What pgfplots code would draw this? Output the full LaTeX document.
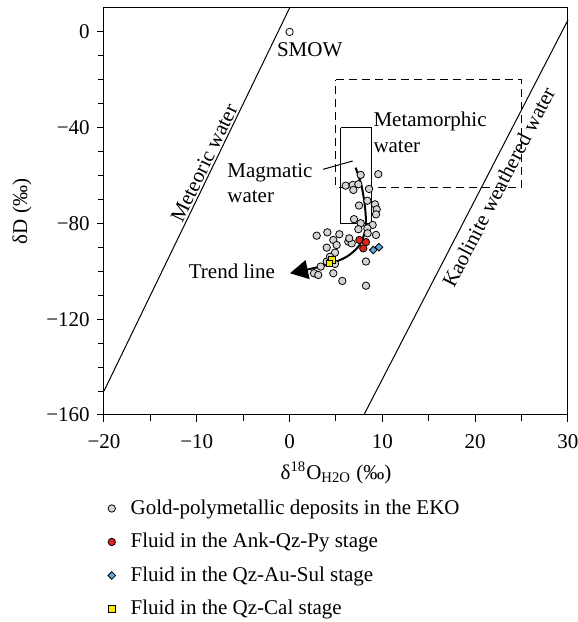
\documentclass[border=0pt]{standalone}
\usepackage{fontspec}
\setmainfont{Liberation Serif}
\usepackage{pgfplots}
\pgfplotsset{compat=1.18}
\usetikzlibrary{arrows.meta}
\definecolor{gfill}{HTML}{D4D4D4}
\definecolor{rfill}{HTML}{E2231A}
\definecolor{bfill}{HTML}{5BA8DC}
\definecolor{yfill}{HTML}{F8E700}
\begin{document}
\fontsize{10.5}{12.6}\selectfont
\begin{tikzpicture}
\path[use as bounding box] (0,0) rectangle (289pt,311pt);
\begin{axis}[
  at={(52pt,103.5pt)}, anchor=south west,
  scale only axis, width=232pt, height=203.5pt,
  xmin=-20, xmax=30, ymin=-160, ymax=10,
  xtick={-20,-10,0,10,20,30}, xticklabels={−20,−10,0,10,20,30},
  minor xtick={-15,-5,5,15,25},
  ytick={-160,-120,-80,-40,0}, yticklabels={−160,−120,−80,−40,0},
  minor ytick={-150,-140,-130,-110,-100,-90,-70,-60,-50,-30,-20,-10},
  xtick pos=bottom, ytick pos=left, tick align=outside,
  major tick length=3.5pt, minor tick length=3pt,
  tick style={black, line width=0.5pt},
  axis line style={line width=0.5pt},
  xticklabel style={yshift=-2.5pt},
  xlabel={δ\textsuperscript{18}O\textsubscript{H2O} (‰)},
  ylabel={δD (‰)},
  every axis x label/.style={at={(axis description cs:0.5,0)}, anchor=center, yshift=-29pt},
  every axis y label/.style={at={(axis description cs:0,0.5)}, xshift=-41pt, rotate=90, anchor=center},
  legend style={at={(axis description cs:0,0)}, anchor=north west, xshift=0.2pt, yshift=-40.3pt,
    draw=none, fill=none, inner sep=0pt, outer sep=0pt, row sep=3.9pt, column sep=3.7pt,
    font=\fontsize{10.5}{12.6}\selectfont},
  legend cell align=left,
  legend image code/.code={\path (-3.5pt,0pt) (3.5pt,0pt); \draw[#1] plot coordinates {(0pt,0pt)};},
  clip=false,
]
% reference lines
\addplot[black, line width=0.5pt, forget plot] coordinates {(-20,-150) (0,10)};
\addplot[black, line width=0.5pt, forget plot] coordinates {(8,-160) (30,5)};
% metamorphic water box
\addplot[black, line width=0.5pt, dash pattern=on 4pt off 2.5pt, forget plot] coordinates {(5,-20) (25,-20) (25,-65) (5,-65) (5,-20)};
% magmatic water box
\addplot[black, line width=0.5pt, forget plot] coordinates {(5.5,-40) (8.8,-40) (8.8,-80) (5.5,-80) (5.5,-40)};
% leader line
\addplot[black, line width=0.5pt, forget plot] coordinates {(3.6,-57.4) (6.8,-53.9)};
% SMOW
\addplot[only marks, mark=*, mark size=1.85pt, mark options={fill=white, draw=black, line width=0.4pt}, forget plot] coordinates {(0,0)};

\addplot[only marks, mark=*, mark size=1.85pt, mark options={fill=gfill, draw=black, line width=0.4pt}] coordinates {
(7.66,-59.7)(9.56,-59.4)(6.04,-64.2)(6.80,-63.9)(6.87,-66.0)(8.56,-65.6)(7.41,-63.6)
(8.38,-70.5)(7.48,-72.5)(9.2,-72.0)(9.39,-74.1)(9.31,-76.2)(6.94,-78.2)(7.66,-79.9)
(8.95,-80.6)(7.41,-82.4)(8.38,-82.0)(9.31,-84.8)(2.92,-85.1)(4.07,-83.7)(5.36,-84.5)
(4.71,-86.9)(6.33,-87.6)(6.69,-88.3)(4.0,-90.1)(5.07,-89.0)(4.89,-92.2)(4.0,-95.9)
(4.89,-96.9)(3.35,-98.0)(2.63,-100.8)(3.09,-101.5)(4.71,-100.8)(5.68,-104.0)(8.23,-95.9)
(8.23,-106.0)(4.35,-93.9)(6.43,-86.2)(8.41,-84.1)};
\addlegendentry{Gold-polymetallic deposits in the EKO}

% trend line
\addplot[black, line width=1pt, smooth, -{Triangle[length=9pt,width=9.5pt]}, forget plot] coordinates {
(7.12,-56.7)(7.77,-64.6)(8.12,-73.0)(8.23,-79.9)(8.02,-84.8)(7.41,-89.7)(6.15,-93.9)(4.35,-96.9)(2.56,-98.7)(0.04,-100.8)};

\addplot[only marks, mark=*, mark size=1.85pt, mark options={fill=rfill, draw=black, line width=0.4pt}] coordinates {
(7.52,-86.9)(8.23,-87.8)(7.94,-90.4)};
\addlegendentry{Fluid in the Ank-Qz-Py stage}

\addplot[only marks, mark=square*, mark size=1.35pt, mark options={rotate=45, fill=bfill, draw=black, line width=0.4pt}] coordinates {
(9.02,-91.1)(9.63,-89.9)};
\addlegendentry{Fluid in the Qz-Au-Sul stage}

\addplot[only marks, mark=square*, mark size=1.65pt, mark options={fill=yfill, draw=black, line width=0.4pt}] coordinates {
(4.53,-95.2)(4.28,-96.6)};
\addlegendentry{Fluid in the Qz-Cal stage}

% text labels
\node[anchor=base west, inner sep=0pt] at (axis cs:-1.4,-10.3) {SMOW};
\node[anchor=south, inner sep=1pt, rotate=64.1] at (axis cs:-8.3,-56.5) {Meteoric water};
\node[anchor=north, inner sep=3.5pt, rotate=62.7] at (axis cs:21.1,-62) {Kaolinite weathered water};
\node[anchor=north west, inner sep=0pt, align=left, font=\fontsize{10.5}{12.8}\selectfont] at (axis cs:9.0,-33.3) {Metamorphic\\water};
\node[anchor=north west, inner sep=0pt, align=left, font=\fontsize{10.5}{12.5}\selectfont] at (axis cs:-6.75,-54.9) {Magmatic\\water};
\node[anchor=base west, inner sep=0pt] at (axis cs:-10.9,-102.9) {Trend line};
\end{axis}
\end{tikzpicture}
\end{document}
